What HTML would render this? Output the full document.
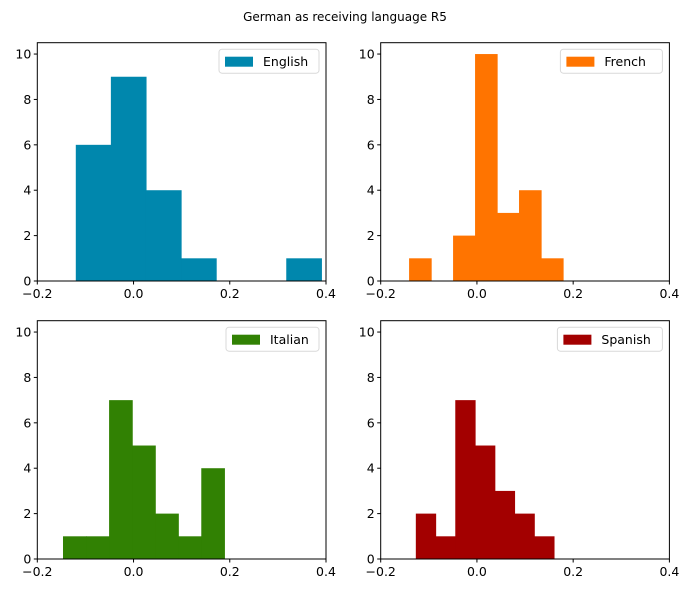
<!DOCTYPE html>
<html><head><meta charset="utf-8"><style>
body{margin:0;background:#fff;}
svg{display:block;font-family:"DejaVu Sans","Liberation Sans",sans-serif;}
</style></head><body>
<svg id="c" width="690" height="593" xmlns="http://www.w3.org/2000/svg">
<rect width="690" height="593" fill="#fff"/>
<text x="345" y="21" text-anchor="middle" font-size="12" fill="#000">German as receiving language R5</text>
</svg>
<script>
const labels = ["English","French","Italian","Spanish"];
const colors = ["#0087ad","#ff7400","#318103","#a30000"];
const binStarts = [-0.120, -0.141, -0.1466, -0.127];
const binWidths = [0.0729, 0.0457, 0.0479, 0.041];
const countsEnglish = [6,9,4,1,0,0,1];
const countsFrench = [1,0,2,10,3,4,1];
const countsItalian = [1,1,7,5,2,1,4];
const countsSpanish = [2,1,7,5,3,2,1];
const xTicks = [-0.2,0.0,0.2,0.4];
const xTickLabels = ["\u22120.2","0.0","0.2","0.4"];
const yTicks = [0,2,4,6,8,10];
const allCounts = [countsEnglish,countsFrench,countsItalian,countsSpanish];
const NS="http://www.w3.org/2000/svg";
const svg=document.getElementById('c');
const panels=[[37.3,42.7],[380.7,42.7],[37.3,320.7],[380.7,320.7]];
const W=288.7,H=238.3,xmin=-0.2,xmax=0.4,ymax=10.5;
function mk(t,a,p){const e=document.createElementNS(NS,t);for(const k in a)e.setAttribute(k,a[k]);(p||svg).appendChild(e);return e;}
panels.forEach(([px,py],i)=>{
  const g=mk('g',{});
  
  
  const X=v=>px+(v-xmin)/(xmax-xmin)*W;
  const Y=v=>py+H-v/ymax*H;
  allCounts[i].forEach((c,j)=>{
    if(c<=0)return;
    const x0=X(binStarts[i]+j*binWidths[i]),x1=X(binStarts[i]+(j+1)*binWidths[i]);
    const r=mk('rect',{x:x0,y:Y(c),width:x1-x0+0.6,height:Y(0)-Y(c),fill:colors[i]},g);
    
    
  });
  const f=mk('rect',{x:px,y:py,width:W,height:H,fill:'none',stroke:'#000','stroke-width':1},g);
  
  
  xTicks.forEach((t,k)=>{
    const x=X(t);
    mk('line',{x1:x,x2:x,y1:py+H,y2:py+H+3.5,stroke:'#000'},g);
    const tx=mk('text',{x:x,y:py+H+17,'text-anchor':'middle','font-size':12.5},g);
    tx.textContent=xTickLabels[k];
    
    
  });
  yTicks.forEach(t=>{
    const y=Y(t);
    mk('line',{x1:px-3.5,x2:px,y1:y,y2:y,stroke:'#000'},g);
    const tx=mk('text',{x:px-6,y:y+4.5,'text-anchor':'end','font-size':12.5},g);
    tx.textContent=t;
    
    
  });
  const lw=[100,102,93,105][i];
  const lx=px+W-7-lw, ly=py+6.5;
  const lg=mk('g',{},g);
  
  
  mk('rect',{x:lx,y:ly,width:lw,height:24,rx:3,fill:'#fff',stroke:'#d9d9d9'},lg);
  mk('rect',{x:lx+6,y:ly+7.5,width:28,height:10,fill:colors[i]},lg);
  const lt=mk('text',{x:lx+44,y:ly+17,'font-size':12.5},lg);
  lt.textContent=labels[i];
});
</script>
</body></html>
